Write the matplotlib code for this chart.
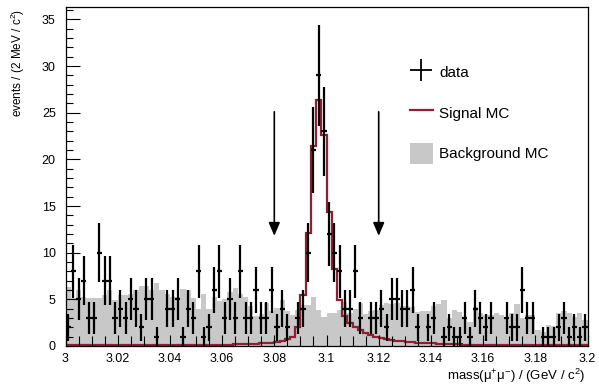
import numpy as np
import matplotlib
matplotlib.use("Agg")
import matplotlib.pyplot as plt
from matplotlib.lines import Line2D
from matplotlib.patches import Patch

plt.rcParams['font.family'] = ['Liberation Sans', 'DejaVu Sans']
plt.rcParams['mathtext.fontset'] = 'custom'
plt.rcParams['mathtext.rm'] = 'Liberation Sans'
plt.rcParams['mathtext.it'] = 'Liberation Sans'

# 100 bins of 2 MeV between 3.0 and 3.2 GeV
x_lo, x_hi, n_bins = 3.0, 3.2, 100

data_counts = [2, 8, 5, 7, 3, 3, 10, 7, 7, 3, 4, 3, 5, 4, 2, 5, 5, 1, 0, 4,
               4, 5, 1, 4, 3, 8, 1, 2, 6, 8, 3, 5, 3, 8, 3, 3, 6, 3, 3, 6,
               2, 4, 2, 0, 3, 4, 10, 21, 29, 23, 12, 10, 8, 4, 4, 8, 3, 0, 3, 3,
               4, 2, 5, 5, 4, 4, 6, 2, 0, 2, 3, 0, 1, 2, 1, 1, 3, 1, 4, 3,
               2, 3, 0, 0, 3, 2, 2, 6, 3, 3, 0, 1, 1, 1, 2, 3, 1, 2, 1, 2]

signal_mc = [0.08, 0.08, 0.08, 0.08, 0.08, 0.08, 0.08, 0.08, 0.08, 0.08,
             0.09, 0.09, 0.09, 0.09, 0.09, 0.1, 0.1, 0.1, 0.1, 0.1,
             0.11, 0.11, 0.12, 0.12, 0.12, 0.13, 0.13, 0.14, 0.14, 0.15,
             0.15, 0.16, 0.18, 0.2, 0.2, 0.22, 0.25, 0.28, 0.3, 0.35,
             0.4, 0.5, 0.7, 1.0, 2.0, 5.5, 12.1, 21.4, 26.4, 22.6,
             14.4, 8.3, 4.9, 3.2, 2.5, 2.0, 1.7, 1.4, 1.2, 1.0,
             0.85, 0.75, 0.65, 0.58, 0.5, 0.45, 0.4, 0.36, 0.32, 0.3,
             0.27, 0.24, 0.22, 0.2, 0.18, 0.17, 0.16, 0.15, 0.14, 0.14,
             0.13, 0.13, 0.12, 0.12, 0.11, 0.11, 0.1, 0.1, 0.1, 0.1,
             0.09, 0.09, 0.09, 0.09, 0.08, 0.08, 0.08, 0.08, 0.08, 0.08]

background_mc = [6.3, 5.1, 6.0, 5.2, 5.1, 5.1, 5.1, 5.5, 6.0, 4.9,
                 5.5, 5.5, 5.6, 6.0, 6.4, 6.4, 6.0, 6.7, 6.0, 5.6,
                 5.3, 5.2, 6.1, 6.0, 5.1, 4.0, 5.6, 4.0, 5.2, 4.8,
                 5.0, 5.8, 6.2, 5.6, 5.2, 4.3, 3.2, 3.4, 4.6, 3.8,
                 4.1, 4.9, 3.8, 3.3, 3.9, 4.4, 4.4, 5.3, 3.9, 3.1,
                 3.5, 3.5, 3.9, 4.75, 3.5, 4.0, 4.6, 3.4, 3.8, 3.9,
                 4.4, 4.6, 4.5, 4.6, 4.3, 4.3, 4.2, 3.6, 3.7, 3.8,
                 4.3, 4.5, 4.9, 3.0, 3.9, 3.6, 3.1, 2.6, 4.2, 3.5,
                 3.3, 3.3, 3.5, 3.3, 3.1, 3.5, 4.5, 3.0, 3.3, 3.3,
                 1.7, 1.5, 2.25, 2.1, 3.5, 3.7, 3.5, 3.1, 3.5, 2.8]

cut_lo, cut_hi = 3.08, 3.12

edges = np.linspace(x_lo, x_hi, n_bins + 1)
centers = 0.5 * (edges[:-1] + edges[1:])
half_w = 0.5 * (edges[1] - edges[0])
counts = np.array(data_counts, dtype=float)
keep = counts > 0

fig = plt.figure(figsize=(5.99, 3.86), dpi=100)
ax = fig.add_axes([65.5 / 599, 1 - 346 / 386, 522 / 599, 338.7 / 386])

bkg_color = '#c8c8c8'
sig_color = '#8e1f36'

ax.stairs(background_mc, edges, fill=True, color=bkg_color, lw=0)
ax.stairs(signal_mc, edges, color=sig_color, lw=1.6)
ax.errorbar(centers[keep], counts[keep], xerr=half_w, yerr=np.sqrt(counts[keep]),
            fmt='none', ecolor='black', elinewidth=1.6, capsize=0)

for xc in (cut_lo, cut_hi):
    ax.annotate('', xy=(xc, 11.8), xytext=(xc, 25.1),
                arrowprops=dict(arrowstyle='-|>,head_length=0.8,head_width=0.34',
                                mutation_scale=10, color='black', lw=1.2,
                                shrinkA=0, shrinkB=0))

ax.set_xlim(x_lo, x_hi)
ax.set_ylim(0, 36.3)
ax.set_xticks(np.arange(3.0, 3.2001, 0.02))
ax.set_xticklabels(['3', '3.02', '3.04', '3.06', '3.08', '3.1', '3.12', '3.14',
                    '3.16', '3.18', '3.2'])
ax.set_xticks(np.arange(3.0, 3.2001, 0.005), minor=True)
ax.set_yticks(np.arange(0, 36, 5))
ax.set_yticks(np.arange(0, 37, 1), minor=True)
ax.tick_params(axis='both', which='both', direction='in', top=False, right=False,
               labelsize=9, width=0.8)
ax.tick_params(axis='y', which='major', length=10, pad=7)
ax.tick_params(axis='y', which='minor', length=5)
ax.tick_params(axis='x', which='major', length=8, pad=5)
ax.tick_params(axis='x', which='minor', length=7)
for s in ax.spines.values():
    s.set_linewidth(0.9)

fig.text(585 / 599, 1 - 376 / 386, r'mass(μ$^{+}$μ$^{-}$) / (GeV / c$^{2}$)',
         ha='right', va='center', fontsize=9.5)
fig.text(18 / 599, 1 - 9 / 386, r'events / (2 MeV / c$^{2}$)', rotation=90,
         ha='center', va='top', fontsize=8.5)

handles = [Line2D([], [], color='black', marker='+', markersize=16, mew=1.3, ls='none'),
           Line2D([], [], color=sig_color, lw=1.6),
           Patch(facecolor=bkg_color, edgecolor='none')]
ax.legend(handles, ['data', 'Signal MC', 'Background MC'], loc='upper left',
          bbox_to_anchor=(410 / 599, 1 - 62 / 386), bbox_transform=fig.transFigure,
          frameon=False, fontsize=11, handlelength=1.5, handleheight=1.7,
          handletextpad=0.4, labelspacing=1.3, borderpad=0, borderaxespad=0)

fig.savefig('out.png', dpi=100)
